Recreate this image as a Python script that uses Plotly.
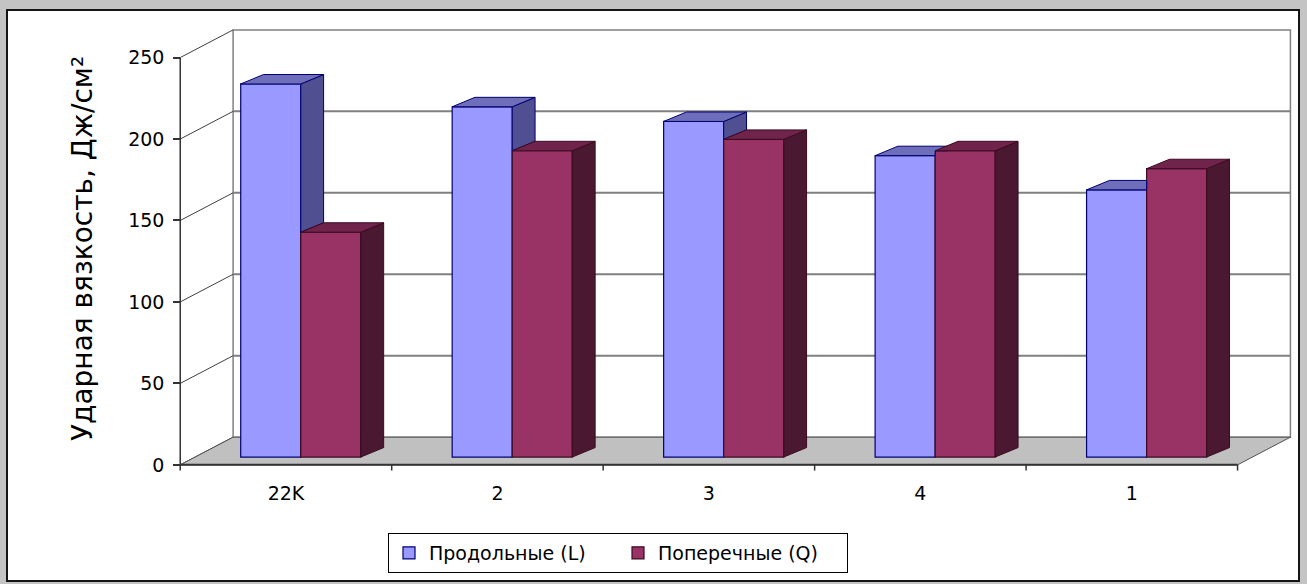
import plotly.graph_objects as go

# ---------------- data ----------------
categories = ["22K", "2", "3", "4", "1"]
longitudinal = [229, 215, 206, 185, 164]   # Продольные (L)
transverse = [138, 188, 195, 188, 177]     # Поперечные (Q)
y_ticks = [0, 50, 100, 150, 200, 250]
series_names = ["Продольные (L)", "Поперечные (Q)"]
y_title = "Ударная вязкость, Дж/см²"

# ---------------- style / geometry ----------------
W, H = 1307, 584
ML, MR, MT, MB = 176, 6, 25, 111
X_RANGE = [-0.52, 4.8]
Y_RANGE = [-5, 270]
FONT = "DejaVu Sans"

WALL_DX, WALL_DY = 0.25, 17.0        # depth of the 3-D box (category units, value units)
BAR_SHIFT_X, BAR_SHIFT_Y = 0.07, 4.8  # bars' front plane inside the box
BAR_DDX, BAR_DDY = 0.108, 5.8         # bar depth
BAR_W = 0.284

BLUE_FRONT, BLUE_SIDE, BLUE_TOP, BLUE_EDGE = "#9999FF", "#4f4f92", "#6e6eba", "#000070"
RED_FRONT, RED_SIDE, RED_TOP, RED_EDGE = "#993366", "#4a1830", "#70244b", "#3a0a20"
GRID = "#808080"
FLOOR = "#c0c0c0"
AXIS = "#333333"
OUTER_BG = "#c4c4c4"

PW = W - ML - MR
PH = H - MT - MB


def xp(px):
    return (px - ML) / PW


def yp(py):
    return (H - MB - py) / PH


n = len(categories)
idx = list(range(n))
x_lo, x_hi = -0.5, n - 0.5

fig = go.Figure()

# front faces of bars
cx_blue = [i + BAR_SHIFT_X - BAR_W / 2 for i in idx]
cx_red = [i + BAR_SHIFT_X + BAR_W / 2 for i in idx]
fig.add_trace(go.Bar(x=cx_blue, y=longitudinal, base=BAR_SHIFT_Y, width=BAR_W,
                     name=series_names[0], hoverinfo="skip",
                     marker=dict(color=BLUE_FRONT, line=dict(color=BLUE_EDGE, width=1.2))))
fig.add_trace(go.Bar(x=cx_red, y=transverse, base=BAR_SHIFT_Y, width=BAR_W,
                     name=series_names[1], hoverinfo="skip",
                     marker=dict(color=RED_FRONT, line=dict(color=RED_EDGE, width=1.2))))

# 3-D faces, computed from the data
blue_sides, blue_tops, red_sides, red_tops = [], [], [], []
for i in idx:
    b0 = BAR_SHIFT_Y
    tb = b0 + longitudinal[i]
    tr = b0 + transverse[i]
    xl = cx_blue[i] - BAR_W / 2
    xr = cx_blue[i] + BAR_W / 2
    # blue side: only the part above the red bar is visible
    if tb > tr:
        blue_sides.append([(xr, tr), (xr, tb), (xr + BAR_DDX, tb + BAR_DDY), (xr + BAR_DDX, tr + BAR_DDY)])
    # blue top, clipped by the red front face
    if tr <= tb:
        blue_tops.append([(xl, tb), (xr, tb), (xr + BAR_DDX, tb + BAR_DDY), (xl + BAR_DDX, tb + BAR_DDY)])
    elif tr >= tb + BAR_DDY:
        blue_tops.append([(xl, tb), (xr, tb), (xr, tb + BAR_DDY), (xl + BAR_DDX, tb + BAR_DDY)])
    else:
        xc = xr + (tr - tb) / BAR_DDY * BAR_DDX
        blue_tops.append([(xl, tb), (xr, tb), (xr, tr), (xc, tr),
                          (xr + BAR_DDX, tb + BAR_DDY), (xl + BAR_DDX, tb + BAR_DDY)])
    rl = cx_red[i] - BAR_W / 2
    rr = cx_red[i] + BAR_W / 2
    red_sides.append([(rr, b0), (rr, tr), (rr + BAR_DDX, tr + BAR_DDY), (rr + BAR_DDX, b0 + BAR_DDY)])
    red_tops.append([(rl, tr), (rr, tr), (rr + BAR_DDX, tr + BAR_DDY), (rl + BAR_DDX, tr + BAR_DDY)])


def poly_trace(polys, fill, edge):
    xs, ys = [], []
    for p in polys:
        for (x, y) in p:
            xs.append(x)
            ys.append(y)
        xs.append(p[0][0])
        ys.append(p[0][1])
        xs.append(None)
        ys.append(None)
    return go.Scatter(x=xs, y=ys, mode="lines", fill="toself", fillcolor=fill,
                      line=dict(color=edge, width=1), showlegend=False, hoverinfo="skip")


fig.add_trace(poly_trace(blue_sides, BLUE_SIDE, BLUE_EDGE))
fig.add_trace(poly_trace(blue_tops, BLUE_TOP, BLUE_EDGE))
fig.add_trace(poly_trace(red_sides, RED_SIDE, RED_EDGE))
fig.add_trace(poly_trace(red_tops, RED_TOP, RED_EDGE))

# category boundary tick marks
bx, by = [], []
for k in range(n + 1):
    b = x_lo + k
    bx += [b, b, None]
    by += [0, -3.5, None]
fig.add_trace(go.Scatter(x=bx, y=by, mode="lines", line=dict(color=AXIS, width=1.5),
                         showlegend=False, hoverinfo="skip"))

# ---------------- shapes: chart area, walls, floor ----------------
shapes = []
shapes.append(dict(type="rect", xref="paper", yref="paper", layer="below",
                   x0=xp(7), x1=xp(1299), y0=yp(581), y1=yp(10),
                   fillcolor="white", line=dict(color="#151515", width=2)))
top = y_ticks[-1]
shapes.append(dict(type="rect", xref="x", yref="y", layer="below",
                   x0=x_lo + WALL_DX, x1=x_hi + WALL_DX, y0=WALL_DY, y1=top + WALL_DY,
                   fillcolor="white", line=dict(color=GRID, width=1.5)))
for v in y_ticks[1:-1]:
    shapes.append(dict(type="line", xref="x", yref="y", layer="below",
                       x0=x_lo + WALL_DX, x1=x_hi + WALL_DX, y0=v + WALL_DY, y1=v + WALL_DY,
                       line=dict(color=GRID, width=2)))
for v in y_ticks:
    shapes.append(dict(type="line", xref="x", yref="y", layer="below",
                       x0=x_lo, x1=x_lo + WALL_DX, y0=v, y1=v + WALL_DY,
                       line=dict(color="#404040", width=1)))
shapes.append(dict(type="path", xref="x", yref="y", layer="below",
                   path=f"M{x_lo},0 L{x_hi},0 L{x_hi + WALL_DX},{WALL_DY} L{x_lo + WALL_DX},{WALL_DY} Z",
                   fillcolor=FLOOR, line=dict(color="#505050", width=1)))
shapes.append(dict(type="line", xref="x", yref="y", layer="below",
                   x0=x_lo, x1=x_hi, y0=0, y1=0, line=dict(color=AXIS, width=2)))
shapes.append(dict(type="line", xref="x", yref="y", layer="below",
                   x0=x_lo, x1=x_lo, y0=0, y1=top, line=dict(color=AXIS, width=1.5)))

fig.update_layout(
    width=W, height=H,
    margin=dict(l=ML, r=MR, t=MT, b=MB),
    paper_bgcolor=OUTER_BG,
    plot_bgcolor="rgba(0,0,0,0)",
    barmode="overlay",
    hovermode=False,
    font=dict(family=FONT, color="black"),
    shapes=shapes,
    xaxis=dict(range=X_RANGE, showgrid=False, zeroline=False, showline=False,
               tickmode="array", tickvals=idx, ticktext=categories, ticks="",
               ticklabelstandoff=7, tickfont=dict(size=19, family=FONT, color="black"),
               fixedrange=True),
    yaxis=dict(range=Y_RANGE, showgrid=False, zeroline=False, showline=False,
               anchor="free", position=(x_lo - X_RANGE[0]) / (X_RANGE[1] - X_RANGE[0]),
               tickmode="array", tickvals=y_ticks, ticks="outside", ticklen=7,
               tickcolor=AXIS, tickwidth=1.5, ticklabelstandoff=5,
               tickfont=dict(size=19, family=FONT, color="black"), fixedrange=True),
    legend=dict(orientation="h", x=xp(388), xanchor="left", y=yp(533), yanchor="top",
                bgcolor="white", bordercolor="black", borderwidth=1,
                entrywidth=184, entrywidthmode="pixels",
                font=dict(size=19, family=FONT, color="black")),
    annotations=[dict(text=y_title, xref="paper", yref="paper", x=xp(82), y=yp(249),
                      xanchor="center", yanchor="middle", textangle=-90, showarrow=False,
                      font=dict(size=28, family=FONT, color="black"))],
)

fig.write_html("out.html")
